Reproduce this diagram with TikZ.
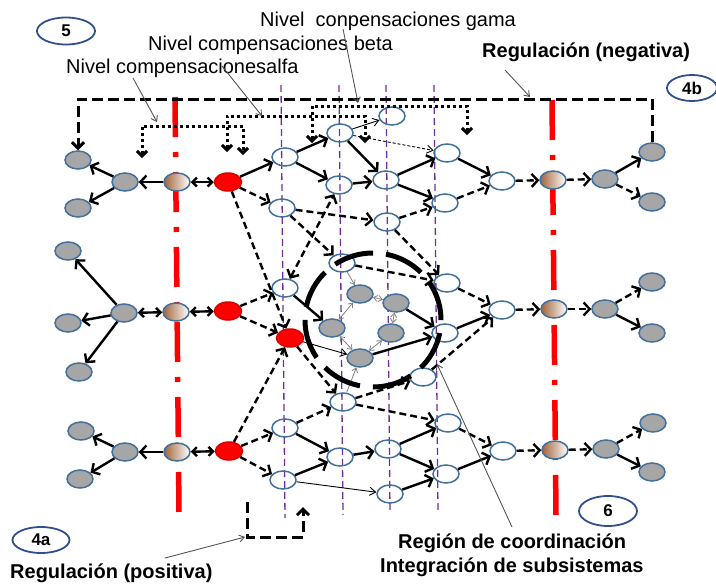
\documentclass[tikz,border=0pt]{standalone}
\usepackage{fontspec}
\setmainfont{Liberation Sans}
\usetikzlibrary{arrows.meta,shapes.geometric}
\definecolor{nb}{HTML}{41719C}
\definecolor{gf}{HTML}{A6A6A6}
\definecolor{pu}{HTML}{7030A0}
\definecolor{ov}{HTML}{2F4F8F}
\definecolor{ptr}{HTML}{555555}
\definecolor{brn}{HTML}{A0643C}
\begin{document}
\begin{tikzpicture}[x=1pt,y=-1pt,
 wn/.style={ellipse,draw=nb,line width=1.5pt,minimum width=26pt,minimum height=18pt,inner sep=0pt},
 gn/.style={wn,fill=gf},
 rn/.style={wn,fill=red,draw=red!85!black,minimum width=27pt,minimum height=18pt},
 grn/.style={wn,left color=brn,right color=white},
 sol/.style={line width=2.4pt,-{Straight Barb[length=6pt,width=13pt]}},
 dsh/.style={sol,dash pattern=on 7pt off 4pt},
 bi/.style={line width=2.4pt,{Straight Barb[length=4.5pt,width=9pt]}-{Straight Barb[length=4.5pt,width=9pt]}},
 dbi/.style={sol,dash pattern=on 7pt off 4pt,{Straight Barb[length=6pt,width=13pt]}-{Straight Barb[length=6pt,width=13pt]}},
 thn/.style={line width=0.9pt,-{Straight Barb[length=6pt,width=8pt]}},
 thd/.style={thn,dash pattern=on 3pt off 2pt},
 cg/.style={line width=0.8pt,draw=gray,{Straight Barb[length=4pt,width=6pt]}-{Straight Barb[length=4pt,width=6pt]}},
 cgs/.style={line width=0.8pt,draw=gray,-{Straight Barb[length=4pt,width=6pt]}},
 dotl/.style={line width=3pt,dash pattern=on 3pt off 3pt,{Straight Barb[length=5pt,width=10pt]}-{Straight Barb[length=5pt,width=10pt]}},
 regl/.style={line width=3pt,dash pattern=on 11pt off 5pt,-{Straight Barb[length=6pt,width=12pt]}},
 redl/.style={draw=red,line width=5.5pt,dash pattern=on 40pt off 15pt on 5pt off 15pt},
 pul/.style={draw=pu,line width=1.3pt,dash pattern=on 7pt off 4pt},
 ptrl/.style={draw=ptr,line width=0.9pt,-{Straight Barb[length=5pt,width=7pt]}},
 lab/.style={font=\fontsize{20}{24}\selectfont,inner sep=0pt,anchor=base west},
 blab/.style={font=\bfseries\fontsize{20}{24}\selectfont,inner sep=0pt,anchor=base west},
 ovl/.style={ellipse,draw=ov,line width=1.8pt,inner sep=0pt,font=\bfseries\fontsize{17}{19}\selectfont}
]
\useasboundingbox (0,0) rectangle (716,584);
% guide lines
\draw[redl] (175,97) -- (179,512);
\draw[redl] (552,100) -- (556,515);
\draw[pul] (281,85) -- (285,518);
\draw[pul] (339,85) -- (343,515);
\draw[pul] (386,85) -- (390,513);
\draw[pul] (434,85) -- (438,513);
% top row nodes
\node[gn] (tg1) at (78,160) {};
\node[gn] (tg2) at (78,208) {};
\node[gn] (tg0) at (125,182) {};
\node[grn] (tgr) at (177,182) {};
\node[rn] (tr) at (228,182) {};
\node[wn] (A1) at (285,157) {};
\node[wn] (A2) at (282,208) {};
\node[wn] (B1) at (340,133) {};
\node[wn] (B2) at (339,185) {};
\node[wn] (C0) at (392,116) {};
\node[wn] (C1) at (386,180) {};
\node[wn] (E1) at (387,222) {};
\node[wn] (D1) at (447,153) {};
\node[wn] (D2) at (445,203) {};
\node[wn] (F) at (502,181) {};
\node[grn] (tgr2) at (553,180) {};
\node[gn] (tg3) at (605,179) {};
\node[gn] (tg4) at (652,152) {};
\node[gn] (tg5) at (652,202) {};
% middle row nodes
\node[gn] (mg1) at (68,251) {};
\node[gn] (mg2) at (68,323) {};
\node[gn] (mg3) at (79,372) {};
\node[gn] (mg0) at (124,313) {};
\node[grn] (mgr) at (176,312) {};
\node[rn] (mr) at (228,311) {};
\node[wn] (MW) at (285,288) {};
\node[rn] (R2) at (290,338) {};
\node[wn] (MB) at (342,263) {};
\node[gn] (c1) at (360,294) {};
\node[gn] (c2) at (396,303) {};
\node[gn] (c3) at (332,328) {};
\node[gn] (c4) at (391,333) {};
\node[gn] (c5) at (360,358) {};
\node[wn] (M1) at (447,283) {};
\node[wn] (M2) at (445,333) {};
\node[wn] (M3) at (423,377) {};
\node[wn] (MF) at (502,310) {};
\node[grn] (mgr2) at (554,309) {};
\node[gn] (mg4) at (605,309) {};
\node[gn] (mg5) at (652,282) {};
\node[gn] (mg6) at (652,333) {};
% bottom row nodes
\node[gn] (bg1) at (81,431) {};
\node[gn] (bg2) at (80,479) {};
\node[gn] (bg0) at (125,452) {};
\node[grn] (bgr) at (177,452) {};
\node[rn] (br) at (229,451) {};
\node[wn] (P1) at (285,428) {};
\node[wn] (P2) at (283,480) {};
\node[wn] (Q0) at (343,402) {};
\node[wn] (Q1) at (340,457) {};
\node[wn] (S1) at (388,449) {};
\node[wn] (S2) at (390,494) {};
\node[wn] (T1) at (448,423) {};
\node[wn] (T2) at (446,474) {};
\node[wn] (BF) at (503,451) {};
\node[grn] (bgr2) at (555,450) {};
\node[gn] (bg3) at (606,449) {};
\node[gn] (bg4) at (653,423) {};
\node[gn] (bg5) at (652,472) {};
% top edges
\draw[sol] (tgr) -- (tg0);
\draw[bi] (tgr) -- (tr);
\draw[sol] (tg0) -- (tg1);
\draw[sol] (tg0) -- (tg2);
\draw[sol] (tr) -- (A1);
\draw[dsh] (tr) -- (A2);
\draw[dsh] (tr) -- (R2);
\draw[sol] (A1) -- (B1);
\draw[sol] (A1) -- (B2);
\draw[thn] (B1) -- (C0);
\draw[thd] (B1) -- (D1);
\draw[sol] (B1) -- (C1);
\draw[sol] (B2) -- (C1);
\draw[dbi] (MW) -- (B2);
\draw[dsh] (A2) -- (E1);
\draw[dsh] (A2) -- (MB);
\draw[sol] (C1) -- (D1);
\draw[sol] (C1) -- (D2);
\draw[dsh] (E1) -- (D2);
\draw[dsh] (E1) -- (M1);
\draw[sol] (D1) -- (F);
\draw[dsh] (D2) -- (F);
\draw[dsh] (F) -- (tgr2);
\draw[dsh] (tgr2) -- (tg3);
\draw[sol] (tg3) -- (tg4);
\draw[dsh] (tg3) -- (tg5);
% middle edges
\draw[sol] (mg0) -- (mg1);
\draw[sol] (mg0) -- (mg2);
\draw[sol] (mg0) -- (mg3);
\draw[bi] (mg0) -- (mgr);
\draw[bi] (mgr) -- (mr);
\draw[dsh] (mr) -- (MW);
\draw[dsh] (mr) -- (R2);
\draw[sol] (MW) -- (c3);
\draw[thn] (R2) -- (c5);
\draw[dsh] (R2) -- (Q0);
\draw[cgs] (MB) -- (c1);
\draw[cg] (c1) -- (c2);
\draw[cg] (c2) -- (c4);
\draw[cg] (c4) -- (c5);
\draw[cg] (c5) -- (c3);
\draw[cg] (c3) -- (c1);
\draw[cgs] (Q0) -- (c5);
\draw[sol] (c2) -- (M2);
\draw[sol] (c5) -- (M2);
\draw[dsh] (MB) -- (M1);
\draw[dsh] (M1) -- (MF);
\draw[sol] (M2) -- (MF);
\draw[dsh] (M3) -- (MF);
\draw[dsh] (MF) -- (mgr2);
\draw[dsh] (mgr2) -- (mg4);
\draw[dsh] (mg4) -- (mg5);
\draw[sol] (mg4) -- (mg6);
% bottom edges
\draw[sol] (bgr) -- (bg0);
\draw[bi] (bgr) -- (br);
\draw[sol] (bg0) -- (bg1);
\draw[sol] (bg0) -- (bg2);
\draw[dsh] (br) -- (R2);
\draw[dsh] (br) -- (P1);
\draw[dsh] (br) -- (P2);
\draw[dsh] (P1) -- (Q0);
\draw[sol] (P1) -- (Q1);
\draw[sol] (P2) -- (Q1);
\draw[thn] (P2) -- (S2);
\draw[sol] (Q1) -- (S1);
\draw[dsh] (Q0) -- (T1);
\draw[dsh] (Q0) -- (M3);
\draw[sol] (S1) -- (T1);
\draw[sol] (S1) -- (T2);
\draw[sol] (S2) -- (T2);
\draw[dsh] (T1) -- (BF);
\draw[sol] (T2) -- (BF);
\draw[dsh] (BF) -- (bgr2);
\draw[dsh] (bgr2) -- (bg3);
\draw[dsh] (bg3) -- (bg4);
\draw[sol] (bg3) -- (bg5);
% coordination circle
\draw[line width=5pt,dash pattern=on 40pt off 13pt] (373,320) ellipse [x radius=68pt,y radius=67pt];
% compensation levels
\draw[dotl] (142,158) |- (243,126) -- (243,155);
\draw[dotl] (227,152) |- (365,116) -- (365,143);
\draw[dotl] (312,143) |- (467,106) -- (467,135);
% regulation
\draw[regl] (tg4.north) |- (78,99) -- (tg1.north);
\draw[regl] (247,502) |- (303,537) -- (303,507);
% labels
\node[lab] (tgam) at (260,26) {Nivel\ \ conpensaciones gama};
\node[lab] (tbet) at (148,50) {Nivel compensaciones beta};
\node[lab] (talf) at (66,73) {Nivel compensacionesalfa};
\node[blab] (tneg) at (482,57) {Regulación (negativa)};
\node[blab] (tpos) at (10,578) {Regulación (positiva)};
\node[blab] (treg) at (398,548) {Región de coordinación};
\node[blab] (tint) at (380,572) {Integración de subsistemas};
\coordinate (palf) at (157,122);
\coordinate (pbet) at (262,116);
\coordinate (pgam) at (358,103);
\coordinate (pneg) at (530,97);
\coordinate (ppos) at (245,537);
\coordinate (preg) at (437,364);
\draw[ptrl] (133,78) -- (palf);
\draw[ptrl] (222,66) -- (pbet);
\draw[ptrl] (343,29) -- (pgam);
\draw[ptrl] (505,70) -- (pneg);
\draw[ptrl] (165,558) -- (ppos);
\draw[ptrl] (512,527) -- (preg);
% ovals
\node[ovl,minimum width=58pt,minimum height=27pt] (o5) at (66,31) {5};
\node[ovl,minimum width=50pt,minimum height=26pt] (o4b) at (692,88) {4b};
\node[ovl,minimum width=57pt,minimum height=26pt] (o4a) at (41,540) {4a};
\node[ovl,minimum width=58pt,minimum height=30pt] (o6) at (608,511) {6};
\end{tikzpicture}
\end{document}
